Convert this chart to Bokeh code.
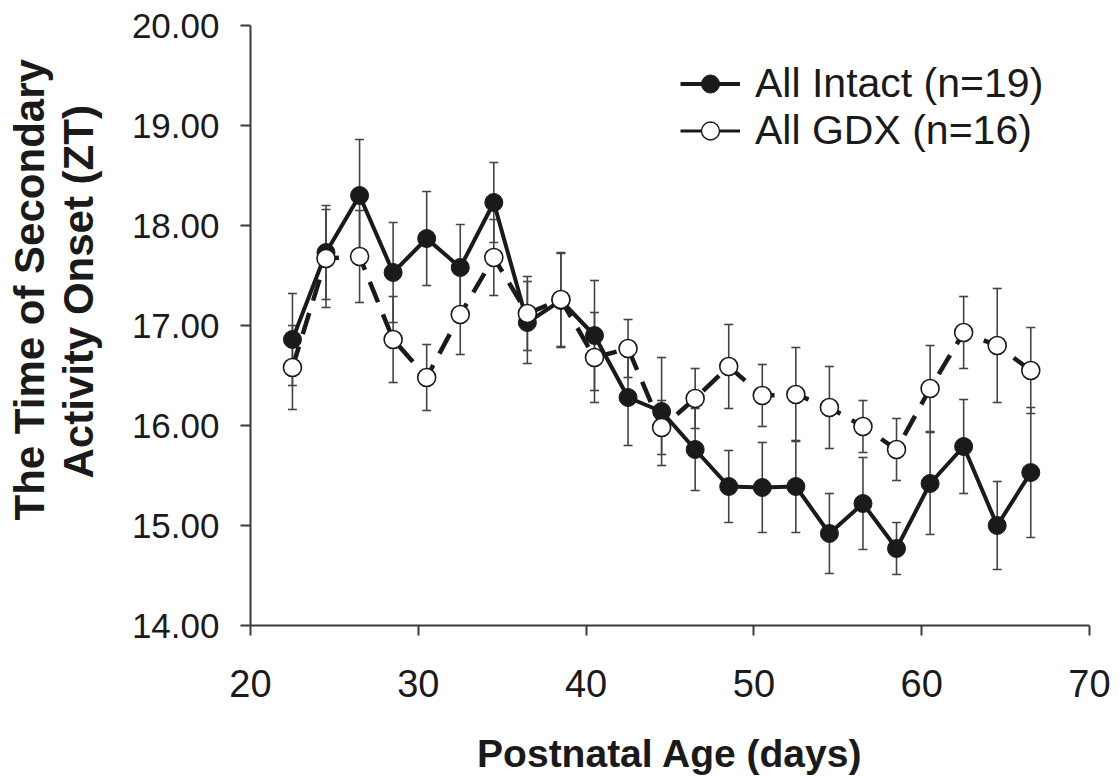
import math
from bokeh.plotting import figure
from bokeh.models import (ColumnDataSource, Whisker, TeeHead, FixedTicker,
                          PrintfTickFormatter, Legend, LegendItem, Title, Range1d)
from bokeh.embed import file_html
from bokeh.resources import INLINE

# ---- data ----
age = [22.5, 24.5, 26.5, 28.5, 30.5, 32.5, 34.5, 36.5, 38.5, 40.5, 42.5, 44.5,
       46.5, 48.5, 50.5, 52.5, 54.5, 56.5, 58.5, 60.5, 62.5, 64.5, 66.5]
intact = [16.86, 17.73, 18.30, 17.53, 17.87, 17.58, 18.23, 17.03, 17.25, 16.90, 16.28, 16.14,
          15.76, 15.39, 15.38, 15.39, 14.92, 15.22, 14.77, 15.42, 15.79, 15.00, 15.53]
intact_err = [0.46, 0.47, 0.56, 0.50, 0.47, 0.43, 0.40, 0.41, 0.47, 0.55, 0.48, 0.54,
              0.41, 0.36, 0.45, 0.46, 0.40, 0.46, 0.26, 0.51, 0.47, 0.44, 0.65]
gdx = [16.58, 17.67, 17.69, 16.86, 16.48, 17.11, 17.68, 17.12, 17.26, 16.68, 16.77, 15.98,
       16.27, 16.59, 16.30, 16.31, 16.18, 15.99, 15.76, 16.37, 16.93, 16.80, 16.55]
gdx_err = [0.42, 0.49, 0.46, 0.43, 0.33, 0.40, 0.38, 0.37, 0.47, 0.45, 0.29, 0.27,
           0.30, 0.42, 0.31, 0.47, 0.41, 0.26, 0.31, 0.43, 0.36, 0.57, 0.43]
x_ticks = [20, 30, 40, 50, 60, 70]
y_ticks = [14, 15, 16, 17, 18, 19, 20]
labels = ["All Intact (n=19)", "All GDX (n=16)"]
x_title = "Postnatal Age (days)"
y_title = ["The Time of Secondary", "Activity Onset (ZT)"]

INK = "#1a1a1a"
AXC = "#3a3a3a"
NAN = float("nan")

src_i = ColumnDataSource(dict(x=age, y=intact,
                              lo=[v - e for v, e in zip(intact, intact_err)],
                              hi=[v + e for v, e in zip(intact, intact_err)]))
src_g = ColumnDataSource(dict(x=age, y=gdx,
                              lo=[v - e for v, e in zip(gdx, gdx_err)],
                              hi=[v + e for v, e in zip(gdx, gdx_err)]))

p = figure(width=1119, height=777, output_backend="svg", toolbar_location=None,
           x_range=Range1d(20, 70), y_range=Range1d(14, 20),
           min_border_left=250, min_border_right=30, min_border_top=25, min_border_bottom=151,
           title=None)
p.outline_line_color = None
p.xgrid.visible = False
p.ygrid.visible = False
p.background_fill_color = "white"
p.border_fill_color = "white"

for src in (src_i, src_g):
    w = Whisker(base="x", upper="hi", lower="lo", source=src,
                line_color="#444444", line_width=1.6,
                upper_head=TeeHead(size=9, line_color="#444444", line_width=1.6),
                lower_head=TeeHead(size=9, line_color="#444444", line_width=1.6))
    w.level = "underlay"
    p.add_layout(w)

# Intact series
p.line("x", "y", source=src_i, line_color=INK, line_width=4)
p.scatter("x", "y", source=src_i, size=18, marker="circle",
          fill_color=INK, line_color=INK, line_width=1)
# GDX series
p.line("x", "y", source=src_g, line_color=INK, line_width=4.5, line_dash="22 13")
p.scatter("x", "y", source=src_g, size=18, marker="circle",
          fill_color="white", line_color=INK, line_width=1.6)

# legend-only renderers (a single NaN point, never drawn in the plot)
leg1 = ColumnDataSource(dict(x=[NAN], y=[NAN]))
leg2 = ColumnDataSource(dict(x=[NAN], y=[NAN]))
l1 = p.line("x", "y", source=leg1, line_color=INK, line_width=4)
m1 = p.scatter("x", "y", source=leg1, size=15, marker="circle", fill_color=INK, line_color=INK)
l2 = p.line("x", "y", source=leg2, line_color=INK, line_width=3)
m2 = p.scatter("x", "y", source=leg2, size=13, marker="circle", fill_color="white",
               line_color=INK, line_width=1.4)
legend = Legend(items=[LegendItem(label=labels[0], renderers=[l1, m1]),
                       LegendItem(label=labels[1], renderers=[l2, m2])],
                location=(430, 471), glyph_width=60, glyph_height=45, label_height=45,
                label_standoff=15, spacing=-4, padding=0, margin=0,
                border_line_color=None, background_fill_alpha=0,
                label_text_font="Liberation Sans", label_text_font_size="41px",
                label_text_color=INK)
p.add_layout(legend)

# axes
p.xaxis.ticker = FixedTicker(ticks=x_ticks)
p.yaxis.ticker = FixedTicker(ticks=y_ticks)
p.yaxis.formatter = PrintfTickFormatter(format="%.2f")
for ax in (p.xaxis, p.yaxis):
    ax.axis_line_color = AXC
    ax.axis_line_width = 2
    ax.major_tick_line_color = AXC
    ax.major_tick_line_width = 2
    ax.major_tick_out = 10
    ax.major_tick_in = 0
    ax.minor_tick_out = 0
    ax.minor_tick_in = 0
    ax.major_label_text_color = INK
    ax.major_label_text_font = "Liberation Sans"
p.yaxis.major_label_text_font_size = "35px"
p.yaxis.major_label_standoff = 21
# blank spacer label to push the two-line side title outward
p.yaxis.axis_label = " "
p.yaxis.axis_label_text_font_size = "2px"
p.yaxis.axis_label_standoff = 21
p.xaxis.major_label_text_font_size = "38px"
p.xaxis.major_label_standoff = 34
p.xaxis.axis_label = x_title
p.xaxis.axis_label_text_font = "Liberation Sans"
p.xaxis.axis_label_text_font_style = "bold"
p.xaxis.axis_label_text_font_size = "39px"
p.xaxis.axis_label_text_color = INK
p.xaxis.axis_label_standoff = 32

# y-axis title, two lines, as side titles (second line nearest the axis)
for txt, off in ((y_title[1], 147), (y_title[0], 105)):
    p.add_layout(Title(text=txt, align="left", offset=off, vertical_align="middle",
                       text_font="Liberation Sans", text_font_style="bold",
                       text_font_size="42px", text_color=INK, standoff=0), "left")

open("out.html", "w").write(file_html(p, INLINE))
